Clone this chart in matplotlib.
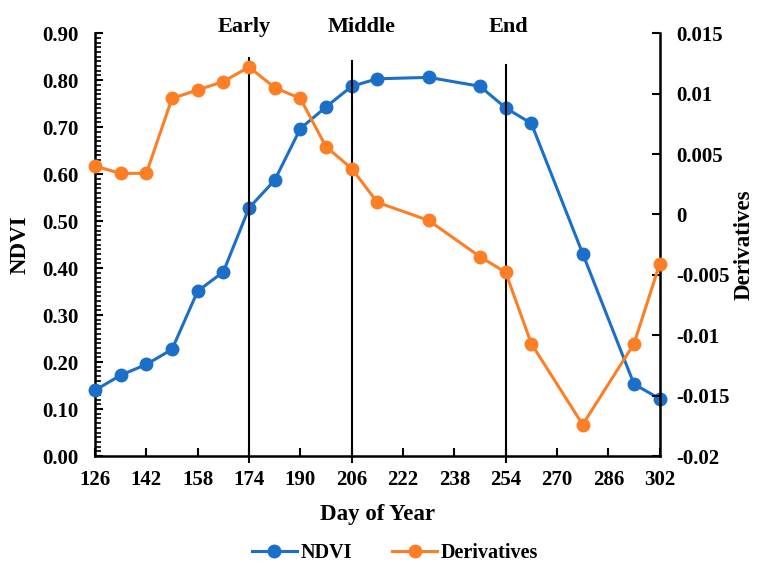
import matplotlib
matplotlib.use('Agg')
import matplotlib.pyplot as plt
from matplotlib.ticker import MultipleLocator, FuncFormatter

plt.rcParams['font.family'] = ['Liberation Serif', 'DejaVu Serif']
plt.rcParams['font.weight'] = 'bold'

days = [126, 134, 142, 150, 158, 166, 174, 182, 190, 198, 206, 214, 230, 246, 254, 262, 278, 294, 302]
ndvi = [0.140, 0.172, 0.195, 0.227, 0.351, 0.392, 0.528, 0.587, 0.697, 0.743, 0.787, 0.803,
        0.806, 0.787, 0.741, 0.708, 0.431, 0.153, 0.122]
deriv = [0.0040, 0.0034, 0.0034, 0.0096, 0.0103, 0.0110, 0.0122, 0.0105, 0.0096, 0.0056, 0.0038,
         0.0010, -0.0005, -0.0035, -0.0048, -0.0107, -0.0174, -0.0107, -0.0041]
x_ticks = [126, 142, 158, 174, 190, 206, 222, 238, 254, 270, 286, 302]
stages = ['Early', 'Middle', 'End']
stage_days = [174, 206, 254]
stage_tops = [0.847, 0.841, 0.832]
stage_label_x = [172.5, 209, 255]

blue = '#1b6fc8'
orange = '#fc7f26'

fig = plt.figure(figsize=(7.6, 5.63), dpi=100)
ax = fig.add_axes([0.125, 0.19, 0.743, 0.751])
ax2 = ax.twinx()

l1, = ax.plot(days, ndvi, '-o', color=blue, lw=2.2, ms=9, label='NDVI', zorder=3, clip_on=False)
l2, = ax2.plot(days, deriv, '-o', color=orange, lw=2.2, ms=9, label='Derivatives', zorder=3,
               clip_on=False)

for name, d, top, lx in zip(stages, stage_days, stage_tops, stage_label_x):
    ax.plot([d, d], [-0.013, top], color='black', lw=1.5, clip_on=False, zorder=4)
    ax.text(lx, 0.902, name, ha='center', va='baseline', fontsize=16, fontweight='bold')

ax.set_xlim(126, 302)
ax.set_ylim(0, 0.9)
ax2.set_ylim(-0.02, 0.015)
ax.set_xticks(x_ticks)
ax.yaxis.set_major_locator(MultipleLocator(0.1))
ax.yaxis.set_minor_locator(MultipleLocator(0.01))
ax.yaxis.set_major_formatter(FuncFormatter(lambda v, p: '%.2f' % v))
ax2.yaxis.set_major_locator(MultipleLocator(0.005))
ax2.yaxis.set_major_formatter(FuncFormatter(lambda v, p: '0' if abs(v) < 1e-9 else ('%g' % round(v, 4))))

ax.tick_params(axis='both', which='major', direction='in', length=6, width=1.5, labelsize=15)
ax.tick_params(axis='y', which='minor', direction='in', length=4, width=1.2)
ax.tick_params(axis='x', pad=10)
ax.tick_params(axis='y', pad=12)
ax2.tick_params(axis='y', direction='in', length=6, width=1.5, labelsize=15, pad=12)

for a in (ax, ax2):
    a.spines['top'].set_visible(False)
    for s in ('left', 'right', 'bottom'):
        a.spines[s].set_linewidth(1.8)
ax.spines['right'].set_visible(False)
ax2.spines['left'].set_visible(False)
ax2.spines['bottom'].set_visible(False)

ax.set_xlabel('Day of Year', fontsize=16.5, fontweight='bold', labelpad=10)
ax.set_ylabel('NDVI', fontsize=16.5, fontweight='bold', labelpad=8)
ax2.set_ylabel('Derivatives', fontsize=16.5, fontweight='bold', labelpad=3)

fig.legend([l1, l2], ['NDVI', 'Derivatives'], loc='center', bbox_to_anchor=(0.52, 0.018),
           ncol=2, frameon=False, fontsize=14.5, handlelength=2.2, handletextpad=0.2,
           columnspacing=2.0)

fig.savefig('out.png', dpi=100)
